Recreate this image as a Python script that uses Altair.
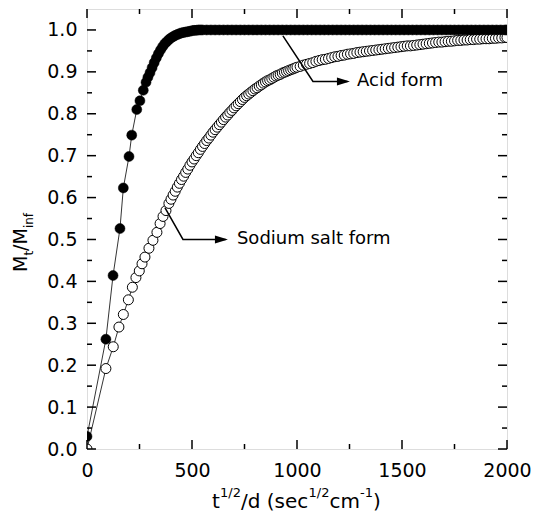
import altair as alt
import pandas as pd

# ---- data ----
acid_x = [0, 90, 124, 157, 173, 200, 213, 237, 252, 268, 281, 290, 300, 310, 320, 330, 340, 350,
          360, 370, 380, 390, 400, 410, 420, 430, 440, 450, 460, 470, 480, 490, 500, 510, 520,
          530, 540, 550, 570, 590, 610, 630, 650, 670, 690, 710, 730, 750, 770, 790, 810, 830,
          850, 870, 890, 910, 930, 950, 970, 990, 1010, 1030, 1050, 1070, 1090, 1110, 1130,
          1150, 1170, 1190, 1210, 1230, 1250, 1270, 1290, 1310, 1330, 1350, 1370, 1390, 1410,
          1430, 1450, 1470, 1490, 1510, 1530, 1550, 1570, 1590, 1610, 1630, 1650, 1670, 1690,
          1710, 1730, 1750, 1770, 1790, 1810, 1830, 1850, 1870, 1890, 1910, 1930, 1950, 1970,
          1990, 2000]
acid_y = [0.030, 0.262, 0.414, 0.526, 0.623, 0.698, 0.749, 0.810, 0.831, 0.856, 0.875, 0.887,
          0.898, 0.910, 0.922, 0.933, 0.943, 0.952, 0.960, 0.967, 0.972, 0.977, 0.981, 0.984,
          0.987, 0.989, 0.991, 0.993, 0.994, 0.995, 0.996, 0.997, 0.998, 0.999, 0.999, 1.0,
          1.0, 1.0, 1.0, 1.0, 1.0, 1.0, 1.0, 1.0, 1.0, 1.0, 1.0, 1.0, 1.0, 1.0, 1.0, 1.0, 1.0,
          1.0, 1.0, 1.0, 1.0, 1.0, 1.0, 1.0, 1.0, 1.0, 1.0, 1.0, 1.0, 1.0, 1.0, 1.0, 1.0, 1.0,
          1.0, 1.0, 1.0, 1.0, 1.0, 1.0, 1.0, 1.0, 1.0, 1.0, 1.0, 1.0, 1.0, 1.0, 1.0, 1.0, 1.0,
          1.0, 1.0, 1.0, 1.0, 1.0, 1.0, 1.0, 1.0, 1.0, 1.0, 1.0, 1.0, 1.0, 1.0, 1.0, 1.0, 1.0,
          1.0, 1.0, 1.0, 1.0, 1.0, 1.0, 1.0]

salt_x = [0, 90, 125, 152, 173, 197, 216, 233, 249, 262, 276, 295, 314, 333, 348, 362, 376, 390,
          400, 410, 420, 430, 440, 450, 460, 470, 480, 490, 500, 510, 520, 530, 540, 550, 560,
          570, 580, 590, 600, 610, 620, 630, 640, 650, 660, 670, 680, 690, 700, 710, 720, 730,
          740, 750, 760, 770, 780, 790, 800, 810, 820, 830, 840, 850, 860, 870, 880, 890, 900,
          910, 920, 930, 940, 950, 960, 970, 980, 990, 1000, 1015, 1030, 1045, 1060, 1075,
          1090, 1105, 1120, 1135, 1150, 1165, 1180, 1195, 1210, 1225, 1240, 1255, 1270, 1285,
          1300, 1315, 1330, 1345, 1360, 1375, 1390, 1405, 1420, 1435, 1450, 1465, 1480, 1495,
          1510, 1525, 1540, 1555, 1570, 1585, 1600, 1615, 1630, 1645, 1660, 1675, 1690, 1705,
          1720, 1735, 1750, 1765, 1780, 1795, 1810, 1825, 1840, 1855, 1870, 1885, 1900, 1915,
          1930, 1945, 1960, 1975, 1990, 2000]
salt_y = [0.0, 0.192, 0.244, 0.291, 0.321, 0.356, 0.386, 0.409, 0.425, 0.442, 0.458, 0.479,
          0.498, 0.517, 0.538, 0.555, 0.569, 0.586,
          0.596, 0.606, 0.615, 0.625, 0.634, 0.643, 0.651, 0.660, 0.668, 0.677, 0.685, 0.692,
          0.700, 0.707, 0.715, 0.722, 0.729, 0.736, 0.742, 0.749, 0.756, 0.762, 0.768, 0.774,
          0.780, 0.786, 0.792, 0.797, 0.803, 0.808, 0.814, 0.819, 0.824, 0.829, 0.834, 0.839,
          0.843, 0.847, 0.851, 0.855, 0.859, 0.862, 0.866, 0.869, 0.873, 0.876, 0.879, 0.881,
          0.884, 0.887, 0.890, 0.892, 0.894, 0.897, 0.899, 0.901, 0.903, 0.905, 0.907, 0.909,
          0.911, 0.913, 0.916, 0.918, 0.920, 0.922, 0.925, 0.927, 0.929, 0.930, 0.932, 0.934,
          0.936, 0.937, 0.939, 0.940, 0.942, 0.943, 0.944, 0.946, 0.947, 0.948, 0.949, 0.950,
          0.951, 0.952, 0.953, 0.954, 0.955, 0.956, 0.957, 0.958, 0.959, 0.960, 0.961, 0.962,
          0.962, 0.963, 0.964, 0.965, 0.966, 0.967, 0.968, 0.969, 0.970, 0.971, 0.971, 0.972,
          0.973, 0.973, 0.974, 0.975, 0.975, 0.976, 0.976, 0.977, 0.977, 0.978, 0.978, 0.979,
          0.979, 0.979, 0.980, 0.980, 0.981, 0.981, 0.982, 0.982]

x_major = [0, 500, 1000, 1500, 2000]
x_minor = [250, 750, 1250, 1750]
y_major = [0.0, 0.1, 0.2, 0.3, 0.4, 0.5, 0.6, 0.7, 0.8, 0.9, 1.0]
y_minor = [0.05, 0.15, 0.25, 0.35, 0.45, 0.55, 0.65, 0.75, 0.85, 0.95]

acid_label = "Acid form"
acid_arrow_x = [933, 1076, 1240]
acid_arrow_y = [0.986, 0.877, 0.877]
acid_tip = (1252, 0.877)
acid_text_at = (1286, 0.877)

salt_label = "Sodium salt form"
salt_arrow_x = [371, 457, 660]
salt_arrow_y = [0.576, 0.500, 0.500]
salt_tip = (671, 0.500)
salt_text_at = (714, 0.500)

# ---- chart ----
W, H = 420, 440
FONT = "DejaVu Sans"

xs = alt.Scale(domain=[0, 2000], nice=False, zero=False)
ys = alt.Scale(domain=[0, 1.05], nice=False, zero=False)
x_axis = alt.Axis(values=x_major, format="d", ticks=False, tickSize=0, domain=False, grid=False,
                  labelFont=FONT, labelFontSize=19, labelColor="black", labelPadding=12,
                  labelFlush=False, labelOverlap=False, title=None)
y_axis = alt.Axis(values=y_major, format=".1f", ticks=False, tickSize=0, domain=False, grid=False,
                  labelFont=FONT, labelFontSize=19, labelColor="black", labelPadding=10,
                  labelFlush=False, labelOverlap=False, title=None)


def X(f):
    return alt.X(f, type="quantitative", scale=xs, axis=x_axis)


def Y(f):
    return alt.Y(f, type="quantitative", scale=ys, axis=y_axis)


acid = pd.DataFrame({"x": acid_x, "y": acid_y})
salt = pd.DataFrame({"x": salt_x, "y": salt_y})

salt_line = alt.Chart(salt).mark_line(color="black", strokeWidth=0.8, clip=True).encode(x=X("x"), y=Y("y"))
acid_line = alt.Chart(acid).mark_line(color="black", strokeWidth=0.8, clip=True).encode(x=X("x"), y=Y("y"))
salt_pts = alt.Chart(salt).mark_point(shape="circle", filled=True, fill="white", stroke="black",
                                      strokeWidth=1, size=100, opacity=1, clip=True).encode(x=X("x"), y=Y("y"))
acid_pts = alt.Chart(acid).mark_point(shape="circle", filled=True, fill="black", stroke="black",
                                      strokeWidth=0.5, size=100, opacity=1, clip=True).encode(x=X("x"), y=Y("y"))

layers = [salt_line, acid_line, salt_pts, acid_pts]

# annotation arrows
for ax_, ay_, tip, tpos, txt in [(acid_arrow_x, acid_arrow_y, acid_tip, acid_text_at, acid_label),
                                 (salt_arrow_x, salt_arrow_y, salt_tip, salt_text_at, salt_label)]:
    d = pd.DataFrame({"x": ax_, "y": ay_, "o": list(range(len(ax_)))})
    layers.append(alt.Chart(d).mark_line(color="black", strokeWidth=1.5).encode(
        x=X("x"), y=Y("y"), order="o:O"))
    layers.append(alt.Chart(pd.DataFrame({"x": [tip[0]], "y": [tip[1]]})).mark_point(
        shape="M0,0L-2,-0.6L-2,0.6Z", filled=True, fill="black", stroke=None, size=169, opacity=1
    ).encode(x=X("x"), y=Y("y")))
    layers.append(alt.Chart(pd.DataFrame({"x": [tpos[0]], "y": [tpos[1]], "t": [txt]})).mark_text(
        align="left", baseline="middle", font=FONT, fontSize=18, color="black"
    ).encode(x=X("x"), y=Y("y"), text="t:N"))

# inward ticks on all four sides
def xticks(vals, y0, y1):
    return alt.Chart(pd.DataFrame({"v": vals})).mark_rule(color="black", strokeWidth=1.5).encode(
        x=X("v"), y=alt.value(y0), y2=alt.value(y1))


def yticks(vals, x0, x1):
    return alt.Chart(pd.DataFrame({"v": vals})).mark_rule(color="black", strokeWidth=1.5).encode(
        y=Y("v"), x=alt.value(x0), x2=alt.value(x1))


layers += [xticks(x_major, H, H - 9), xticks(x_minor, H, H - 5),
           xticks(x_major, 0, 9), xticks(x_minor, 0, 5),
           yticks(y_major, 0, 9), yticks(y_minor, 0, 5),
           yticks(y_major, W, W - 9), yticks(y_minor, W, W - 5)]


# axis titles with sub/superscripts
def piece(txt, x, y, size, angle=0):
    return alt.Chart(pd.DataFrame({"t": [txt]})).mark_text(
        align="left", baseline="alphabetic", font=FONT, fontSize=size, angle=angle, color="black"
    ).encode(x=alt.value(x), y=alt.value(y), text="t:N")


layers += [piece("M", -60, 263, 19, 270), piece("t", -54, 246.6, 12, 270),
           piece("/M", -60, 241.9, 19, 270), piece("inf", -54, 219.1, 12, 270)]

TB, SB = 499, 488
layers += [piece("t", 125, TB, 20), piece("1/2", 133, SB, 13),
           piece("/d (sec", 154, TB, 20), piece("1/2", 221.5, SB, 13),
           piece("cm", 242.5, TB, 20), piece("-1", 273, SB, 13),
           piece(")", 286, TB, 20)]

chart = alt.layer(*layers).properties(
    width=W, height=H,
    autosize=alt.AutoSizeParams(type="none"),
    padding={"left": 79, "top": 1, "right": 28, "bottom": 65},
).configure_view(stroke="black", strokeWidth=1.5).configure(background="white")

chart.save("out.html", embed_options={"renderer": "svg", "actions": False})
